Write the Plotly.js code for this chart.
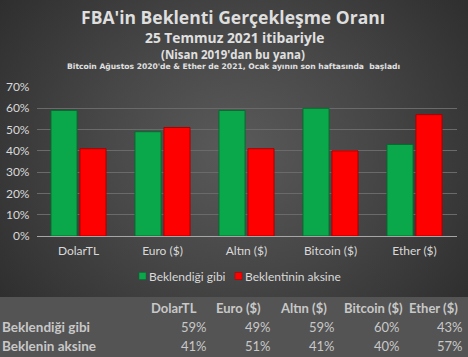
<!DOCTYPE html>
<html>
<head>
<meta charset="utf-8">
<script src="https://cdn.plot.ly/plotly-3.0.1.min.js"></script>
<style>
  html, body { margin: 0; padding: 0; }
  body {
    width: 468px; height: 357px; overflow: hidden;
    background:
      linear-gradient(to bottom, rgba(0,0,0,0) 297px, #545454 297px),
      radial-gradient(ellipse 65% 75% at 50% 42%, #5a5a5a 0%, #474747 45%, #2c2c2c 100%);
  }
  #chart { width: 468px; height: 357px; }
</style>
</head>
<body>
<div id="chart"></div>
<script>
// ---- data ----
const categories = ["DolarTL", "Euro ($)", "Altın ($)", "Bitcoin ($)", "Ether ($)"];
const seriesNames = ["Beklendiği gibi", "Beklentinin aksine"];
const expected = [59, 49, 59, 60, 43];     // Beklendiği gibi (%)
const contrary = [41, 51, 41, 40, 57];     // Beklentinin aksine (%)
const tableRowLabels = ["Beklendiği gibi", "Beklenin aksine"];
const yTickVals = [0, 10, 20, 30, 40, 50, 60, 70];
const titleText = "FBA'in Beklenti Gerçekleşme Oranı";
const subtitle1 = "25 Temmuz 2021 itibariyle";
const subtitle2 = "(Nisan 2019'dan bu yana)";
const subtitle3 = "Bitcoin Ağustos 2020'de & Ether de 2021, Ocak ayının son haftasında  başladı";

// ---- layout helpers ----
const W = 468, H = 357;
const px = v => v / W;
const py = v => 1 - v / H;
const FONT = "Lato, 'Open Sans', sans-serif";
const TFONT = "'Open Sans', sans-serif";
const txt = "#d9d9d9";
const tableTxt = "#c8c8c8";
const seriesColors = ["#0aa84a", "#ff0000"];
const seriesLines = ["#076b30", "#a80000"];

const traces = [expected, contrary].map((vals, k) => ({
  type: "bar", name: seriesNames[k], x: categories, y: vals.map(v => v / 100),
  marker: { color: seriesColors[k], line: { color: seriesLines[k], width: 1 } },
  hoverinfo: "skip", showlegend: false
}));

const annotations = [
  { text: "<b>" + subtitle1 + "</b>", x: px(234), y: py(37.5), font: { size: 13.8, color: "#e0e0e0", family: TFONT } },
  { text: "<b>" + subtitle2 + "</b>", x: px(233), y: py(54), font: { size: 11.5, color: "#e0e0e0", family: TFONT } },
  { text: "<b>" + subtitle3 + "</b>", x: px(233), y: py(66.8), font: { size: 7.6, color: "#e0e0e0", family: "'DejaVu Sans', sans-serif" } }
].map(a => Object.assign({ xref: "paper", yref: "paper", showarrow: false, xanchor: "center", yanchor: "middle" }, a));

// custom legend (small square markers)
const legendX = [139, 235];
const shapes = [];
seriesNames.forEach((n, k) => {
  shapes.push({ type: "rect", xref: "paper", yref: "paper",
    x0: px(legendX[k]), x1: px(legendX[k] + 7), y0: py(279.5), y1: py(272.5),
    fillcolor: seriesColors[k], line: { color: seriesLines[k], width: 0.5 } });
  annotations.push({ xref: "paper", yref: "paper", showarrow: false, text: n,
    x: px(legendX[k] + 8), y: py(276), xanchor: "left", yanchor: "middle",
    font: { size: 12, color: txt, family: FONT } });
});

// table: header row
const colRight = [209, 273, 337, 402, 465];
const colCenter = [174, 238, 303, 373, 433];
categories.forEach((c, i) => {
  annotations.push({ xref: "paper", yref: "paper", showarrow: false, text: "<b>" + c + "</b>",
    x: px(colCenter[i]), y: py(308), xanchor: "center", yanchor: "middle",
    font: { size: 13, color: tableTxt, family: FONT } });
});
const tableRows = [expected, contrary];
tableRowLabels.forEach((lab, r) => {
  const yy = py(327 + r * 19);
  annotations.push({ xref: "paper", yref: "paper", showarrow: false, text: "<b>" + lab + "</b>",
    x: px(0), y: yy, xanchor: "left", yanchor: "middle",
    font: { size: 13.5, color: tableTxt, family: FONT } });
  tableRows[r].forEach((v, i) => {
    annotations.push({ xref: "paper", yref: "paper", showarrow: false, text: v + "%",
      x: px(colRight[i]), y: yy, xanchor: "right", yanchor: "middle",
      font: { size: 13, color: tableTxt, family: FONT } });
  });
});

const layout = {
  width: W, height: H,
  margin: { l: 0, r: 0, t: 0, b: 0 },
  paper_bgcolor: "rgba(0,0,0,0)",
  plot_bgcolor: "rgba(0,0,0,0)",
  title: {
    text: "<b>" + titleText + "</b>",
    x: 0.498, xanchor: "center", y: py(18), yanchor: "middle", yref: "container",
    font: { size: 17.5, color: "#dedede", family: TFONT }
  },
  barmode: "group",
  bargap: 0.31,
  bargroupgap: 0.1,
  showlegend: false,
  xaxis: {
    domain: [px(36.5), px(456.5)],
    showgrid: false, showline: true, linecolor: "#a6a6a6", linewidth: 1,
    ticks: "", ticklabelstandoff: 4, tickfont: { size: 12, color: txt, family: FONT },
    anchor: "y", fixedrange: true
  },
  yaxis: {
    domain: [py(236), py(87)],
    range: [0, 0.7],
    tickvals: yTickVals.map(v => v / 100),
    ticktext: yTickVals.map(v => v + "%"),
    showgrid: true, gridcolor: "#6a6a6a", gridwidth: 1,
    zeroline: false, showline: false, ticks: "", ticklabelstandoff: 6,
    tickfont: { size: 12, color: txt, family: FONT },
    fixedrange: true
  },
  shapes: shapes,
  annotations: annotations
};

Plotly.newPlot("chart", traces, layout, { displayModeBar: false, staticPlot: true });
</script>
</body>
</html>
